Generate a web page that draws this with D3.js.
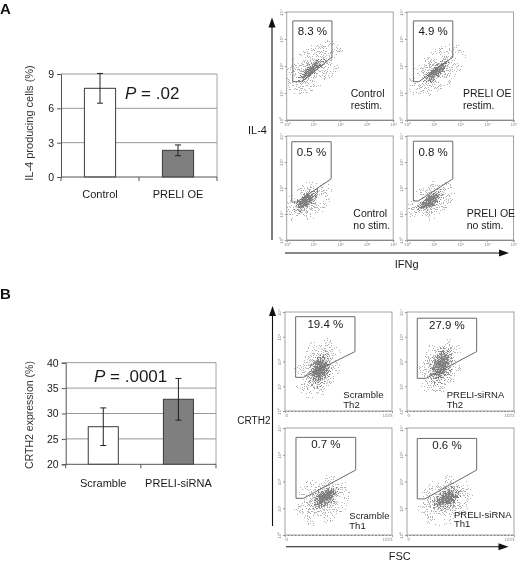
<!DOCTYPE html>
<html><head><meta charset="utf-8">
<script src="https://cdn.jsdelivr.net/npm/d3@7"></script>
<style>
html,body{margin:0;padding:0;background:#fff;}
svg{display:block;font-family:"Liberation Sans",Arial,Helvetica,sans-serif;will-change:transform;}
.tiny{text-rendering:geometricPrecision;}
</style></head><body>
<svg id="fig" width="520" height="562"></svg>
<script>
// ---------------- Bar chart data ----------------
const catsA = ["Control", "PRELI OE"];
const valsA = [7.75, 2.33];
const errA = [1.3, 0.47];
const ticksA = [0, 3, 6, 9];
const domainA = [0, 9];
const pTextA = ".02";
const yTitleA = "IL-4 producing cells (%)";

const catsB = ["Scramble", "PRELI-siRNA"];
const valsB = [27.4, 32.8];
const errB = [3.7, 4.1];
const ticksB = [20, 25, 30, 35, 40];
const domainB = [20, 40];
const pTextB = ".0001";
const yTitleB = "CRTH2 expression (%)";

// ---------------- Flow cytometry data ----------------
// gates: polygon vertices in data units (x, y)
const pctA = ["8.3 %", "4.9 %", "0.5 %", "0.8 %"];
const namesA = [["Control", "restim."], ["PRELI OE", "restim."], ["Control", "no stim."], ["PRELI OE", "no stim."]];
const gatesA = [
  [[0.23,3.67],[1.70,3.67],[1.70,2.33],[0.57,1.42],[0.23,1.42]],
  [[0.24,3.67],[1.72,3.67],[1.72,2.33],[0.45,1.42],[0.24,1.42]],
  [[0.19,3.78],[1.67,3.78],[1.67,2.35],[0.38,1.46],[0.19,1.46]],
  [[0.24,3.80],[1.72,3.80],[1.72,2.35],[0.42,1.50],[0.24,1.50]]
];
// clouds: [centerX, centerY, axisEndX, axisEndY, widthRatio, density]  (halo, core)
const cloudsA = [
  [[0.98,1.95,2.15,2.90,0.55,0.5],[0.92,1.85,1.52,2.37,0.30,1]],
  [[1.13,1.85,2.20,2.80,0.55,0.5],[1.09,1.78,1.66,2.30,0.30,1]],
  [[0.81,1.50,1.70,2.22,0.65,0.5],[0.73,1.50,1.26,1.92,0.45,1]],
  [[0.91,1.50,1.78,2.22,0.65,0.5],[0.87,1.50,1.40,1.92,0.45,1]]
];
const xTicksA = [0, 1, 2, 3, 4];
const yTicksA = [0, 1, 2, 3, 4];

const pctB = ["19.4 %", "27.9 %", "0.7 %", "0.6 %"];
const namesB = [["Scramble", "Th2"], ["PRELI-siRNA", "Th2"], ["Scramble", "Th1"], ["PRELI-siRNA", "Th1"]];
const gatesB = [
  [[102,3.81],[669,3.81],[669,2.40],[175,1.36],[102,1.36]],
  [[98,3.75],[666,3.75],[666,2.40],[182,1.32],[98,1.32]],
  [[105,3.65],[676,3.65],[676,2.43],[175,1.37],[105,1.37]],
  [[98,3.61],[666,3.61],[666,2.43],[172,1.35],[98,1.35]]
];
const cloudsB = [
  [[316,1.74,460,3.05,0.7,0.5],[335,1.66,402,2.46,0.55,1]],
  [[316,1.82,440,3.05,0.7,0.5],[325,1.82,392,2.67,0.55,1]],
  [[354,1.31,620,2.02,0.8,0.5],[382,1.42,526,1.79,0.60,1]],
  [[363,1.31,620,2.02,0.8,0.5],[382,1.38,526,1.76,0.60,1]]
];
const xTicksB = [0, 1023];
const yTicksB = [0, 1, 2, 3, 4];

// ---------------- Drawing ----------------
const svg = d3.select("#fig");
svg.append("rect").attr("width", 520).attr("height", 562).attr("fill", "#fff");
const defs = svg.append("defs");
const TXT = "#1a1a1a";

const rg = defs.append("radialGradient").attr("id", "cg");
[[0,1],[0.3,0.85],[0.6,0.45],[0.85,0.12],[1,0]].forEach(([o,a]) =>
  rg.append("stop").attr("offset", o).attr("stop-color", "#000").attr("stop-opacity", a));
const rg2 = defs.append("radialGradient").attr("id", "cgSoft");
[[0,0.55],[0.4,0.35],[0.75,0.1],[1,0]].forEach(([o,a]) =>
  rg2.append("stop").attr("offset", o).attr("stop-color", "#6f6f6f").attr("stop-opacity", a));

function speckle(id, color, seed, freq) {
  const f = defs.append("filter").attr("id", id)
    .attr("x", "-10%").attr("y", "-10%").attr("width", "120%").attr("height", "120%")
    .attr("color-interpolation-filters", "sRGB");
  f.append("feTurbulence").attr("type", "fractalNoise").attr("baseFrequency", freq)
    .attr("numOctaves", 1).attr("seed", seed).attr("result", "n");
  f.append("feColorMatrix").attr("in", "n").attr("type", "matrix")
    .attr("values", "0 0 0 0 0  0 0 0 0 0  0 0 0 0 0  1 0 0 0 0").attr("result", "na");
  const ct = f.append("feComponentTransfer").attr("in", "na").attr("result", "ns");
  ct.append("feFuncA").attr("type", "linear").attr("slope", 3.2).attr("intercept", -1.1);
  f.append("feComposite").attr("in", "SourceAlpha").attr("in2", "ns").attr("operator", "arithmetic")
    .attr("k1", 0).attr("k2", 1).attr("k3", -1).attr("k4", 0.46).attr("result", "d");
  const ct2 = f.append("feComponentTransfer").attr("in", "d").attr("result", "m");
  ct2.append("feFuncA").attr("type", "discrete").attr("tableValues", "0 1");
  f.append("feFlood").attr("flood-color", color).attr("result", "c");
  f.append("feComposite").attr("in", "c").attr("in2", "m").attr("operator", "in");
}
speckle("spLight", "#b3b3b3", 7, 0.95);
speckle("spDark", "#808080", 19, 1.3);

// ---- bar chart ----
function barChart(cfg) {
  const g = svg.append("g");
  const y = d3.scaleLinear().domain(cfg.domain).range([cfg.y1, cfg.y0]);
  const x = d3.scaleBand().domain(cfg.cats).range([cfg.x0, cfg.x1]).paddingInner(0.6).paddingOuter(0.3);
  g.selectAll(".grid").data(cfg.ticks.slice(1)).join("line")
    .attr("x1", cfg.x0).attr("x2", cfg.x1).attr("y1", d => y(d)).attr("y2", d => y(d))
    .attr("stroke", "#8c8c8c").attr("stroke-width", 0.9);
  g.append("line").attr("x1", cfg.x1).attr("x2", cfg.x1).attr("y1", cfg.y0).attr("y2", cfg.y1)
    .attr("stroke", "#9a9a9a").attr("stroke-width", 0.9);
  g.selectAll(".bar").data(cfg.vals).join("rect")
    .attr("x", (d, i) => x(cfg.cats[i])).attr("width", x.bandwidth())
    .attr("y", d => y(d)).attr("height", d => y(cfg.domain[0]) - y(d))
    .attr("fill", (d, i) => i === 0 ? "#ffffff" : "#7f7f7f")
    .attr("stroke", "#3a3a3a").attr("stroke-width", 1);
  cfg.vals.forEach((v, i) => {
    const cx = x(cfg.cats[i]) + x.bandwidth() / 2, e = cfg.errs[i];
    g.append("line").attr("x1", cx).attr("x2", cx).attr("y1", y(v - e)).attr("y2", y(v + e))
      .attr("stroke", "#222").attr("stroke-width", 1);
    [v - e, v + e].forEach(t => g.append("line").attr("x1", cx - 3).attr("x2", cx + 3)
      .attr("y1", y(t)).attr("y2", y(t)).attr("stroke", "#222").attr("stroke-width", 1));
  });
  const ax = g.append("g").attr("transform", `translate(${cfg.x0},0)`)
    .call(d3.axisLeft(y).tickValues(cfg.ticks).tickSize(4).tickPadding(3));
  ax.select(".domain").attr("stroke", "#555");
  ax.selectAll(".tick line").attr("stroke", "#555");
  ax.selectAll("text").attr("font-size", 10.5).attr("fill", TXT)
    .attr("font-family", "'Liberation Sans',Arial,sans-serif");
  g.append("line").attr("x1", cfg.x0).attr("x2", cfg.x1).attr("y1", cfg.y1).attr("y2", cfg.y1)
    .attr("stroke", "#555");
  const bounds = [cfg.x0, cfg.x0 + x.step(), cfg.x1];
  g.selectAll(".bt").data(bounds).join("line")
    .attr("x1", d => d).attr("x2", d => d).attr("y1", cfg.y1).attr("y2", cfg.y1 + 4).attr("stroke", "#555");
  g.selectAll(".cl").data(cfg.cats).join("text")
    .attr("x", d => x(d) + x.bandwidth() / 2).attr("y", cfg.catY)
    .attr("text-anchor", "middle").attr("font-size", 11).attr("fill", TXT).text(d => d);
  g.append("text").attr("transform", `translate(${cfg.titleX},${cfg.titleY}) rotate(-90)`)
    .attr("text-anchor", "middle").attr("dy", "0.35em")
    .attr("font-size", cfg.titleSize).attr("fill", "#333").text(cfg.title);
  const p = g.append("text").attr("x", cfg.pX).attr("y", cfg.pY).attr("font-size", 17).attr("fill", TXT);
  p.append("tspan").attr("font-style", "italic").text("P");
  p.append("tspan").text(" = " + cfg.pText);
}

barChart({cats: catsA, vals: valsA, errs: errA, ticks: ticksA, domain: domainA,
  x0: 61, x1: 217, y0: 74, y1: 177, catY: 198, titleX: 29, titleY: 123, titleSize: 11,
  title: yTitleA, pX: 125, pY: 99, pText: pTextA});
barChart({cats: catsB, vals: valsB, errs: errB, ticks: ticksB, domain: domainB,
  x0: 65.7, x1: 216, y0: 362.7, y1: 464.3, catY: 486.5, titleX: 29.5, titleY: 415, titleSize: 10.5,
  title: yTitleB, pX: 94, pY: 381.5, pText: pTextB});

// ---- flow plots ----
const sup = ["\u2070", "\u00B9", "\u00B2", "\u00B3", "\u2074"];
let clipN = 0;
function flowPlot(cfg) {
  const g = svg.append("g");
  const x = d3.scaleLinear().domain(cfg.xDomain).range([cfg.bx, cfg.bx + cfg.bw]);
  const y = d3.scaleLinear().domain([0, 4]).range([cfg.by + cfg.bh, cfg.by]);
  const cid = "clip" + (clipN++);
  defs.append("clipPath").attr("id", cid).append("rect")
    .attr("x", cfg.bx).attr("y", cfg.by).attr("width", cfg.bw).attr("height", cfg.bh);
  const cg = g.append("g").attr("clip-path", `url(#${cid})`);
  cfg.clouds.forEach((c, li) => {
    const [cx, cy, ex, ey, ratio, dens] = c;
    const px = x(cx), py = y(cy), qx = x(ex), qy = y(ey);
    const L = Math.hypot(qx - px, qy - py), ang = Math.atan2(qy - py, qx - px) * 180 / Math.PI;
    const tr = `translate(${px},${py}) rotate(${ang})`;
    if (li === 1) {
      cg.append("ellipse").attr("rx", L * 0.85).attr("ry", L * ratio * 0.85)
        .attr("transform", tr).attr("fill", "url(#cgSoft)");
    }
    cg.append("g").attr("filter", li === 0 ? "url(#spLight)" : "url(#spDark)")
      .append("ellipse").attr("cx", 0).attr("cy", 0).attr("rx", L).attr("ry", L * ratio)
      .attr("transform", tr).attr("fill", "url(#cg)").attr("fill-opacity", dens);
  });
  g.append("rect").attr("x", cfg.bx).attr("y", cfg.by).attr("width", cfg.bw).attr("height", cfg.bh)
    .attr("fill", "none").attr("stroke", "#9a9a9a").attr("stroke-width", 0.9);
  const xa = g.append("g").attr("transform", `translate(0,${cfg.by + cfg.bh})`)
    .call(d3.axisBottom(x).tickValues(cfg.xTicks).tickSize(2).tickPadding(1).tickFormat(cfg.xFmt));
  xa.select(".domain").attr("stroke", "#8a8a8a").attr("stroke-dasharray", cfg.dashed ? "2,1.5" : null);
  xa.selectAll(".tick line").attr("stroke", "#999");
  xa.selectAll("text").attr("class", "tiny").attr("font-size", 4.5).attr("fill", "#8a8a8a");
  if (cfg.edgeAnchors) {
    xa.selectAll("text").attr("text-anchor", (d, i) => i === 0 ? "start" : "end");
  }
  const ya = g.append("g").attr("transform", `translate(${cfg.bx},0)`)
    .call(d3.axisLeft(y).tickValues(yTicksA).tickSize(2).tickPadding(1).tickFormat(d => "10" + sup[d]));
  ya.select(".domain").attr("stroke", "none");
  ya.selectAll(".tick line").attr("stroke", "#999");
  ya.selectAll("text").attr("class", "tiny").attr("font-size", 4.5).attr("fill", "#8a8a8a")
    .attr("transform", "rotate(-90)").attr("text-anchor", "middle").attr("x", 0).attr("y", -4).attr("dy", 0);
  g.append("path").attr("d", d3.line().x(d => x(d[0])).y(d => y(d[1]))(cfg.gate) + "Z")
    .attr("fill", "none").attr("stroke", "#6a6a6a").attr("stroke-width", 1);
  const gx = (x(cfg.gate[0][0]) + x(cfg.gate[1][0])) / 2, gy = y(cfg.gate[0][1]);
  g.append("text").attr("x", gx).attr("y", gy + cfg.pctDy).attr("text-anchor", "middle")
    .attr("font-size", 11.5).attr("fill", TXT).text(cfg.pct);
  cfg.names.forEach((t, i) => g.append("text")
    .attr("x", cfg.bx + cfg.nameDx).attr("y", cfg.by + cfg.nameDy + i * cfg.lineH)
    .attr("font-size", cfg.nameSize).attr("fill", TXT).text(t));
}

const colsA = [286.7, 407], rowsA = [[12, 108], [136, 104]];
const nameOffA = [[64, 85], [56, 84.7], [66.6, 81.3], [59.7, 81]];
for (let i = 0; i < 4; i++) {
  flowPlot({bx: colsA[i % 2], by: rowsA[Math.floor(i / 2)][0], bw: 106.5, bh: rowsA[Math.floor(i / 2)][1],
    xDomain: [0, 4], xTicks: xTicksA, xFmt: d => "10" + sup[d], dashed: false, edgeAnchors: false,
    clouds: cloudsA[i], gate: gatesA[i], pct: pctA[i], pctDy: 14.5, names: namesA[i],
    nameDx: nameOffA[i][0], nameDy: nameOffA[i][1], lineH: 12, nameSize: 10.5});
}
const colsB = [285, 407], rowsB = [[312, 99], [428, 107]];
const nameOffB = [[58.3, 86.3], [39.7, 86], [64.3, 91.3], [47, 89.7]];
for (let i = 0; i < 4; i++) {
  flowPlot({bx: colsB[i % 2], by: rowsB[Math.floor(i / 2)][0], bw: 107, bh: rowsB[Math.floor(i / 2)][1],
    xDomain: [0, 1023], xTicks: xTicksB, xFmt: d => String(d), dashed: true, edgeAnchors: true,
    clouds: cloudsB[i], gate: gatesB[i], pct: pctB[i], pctDy: 11, names: namesB[i],
    nameDx: nameOffB[i][0], nameDy: nameOffB[i][1], lineH: 9.5, nameSize: 9.5});
}

// ---- arrows and axis titles ----
function vArrow(x, yTop, yBot) {
  svg.append("line").attr("x1", x).attr("x2", x).attr("y1", yBot).attr("y2", yTop + 8)
    .attr("stroke", "#111").attr("stroke-width", 1.1);
  svg.append("path").attr("d", `M${x},${yTop} L${x - 3.5},${yTop + 10} L${x + 3.5},${yTop + 10} Z`).attr("fill", "#111");
}
function hArrow(y, xL, xR) {
  svg.append("line").attr("x1", xL).attr("x2", xR - 8).attr("y1", y).attr("y2", y)
    .attr("stroke", "#111").attr("stroke-width", 1.1);
  svg.append("path").attr("d", `M${xR},${y} L${xR - 10},${y - 3.5} L${xR - 10},${y + 3.5} Z`).attr("fill", "#111");
}
vArrow(272, 17.5, 240);
hArrow(253, 285, 509);
vArrow(272.5, 306, 526);
hArrow(546.7, 286, 508.5);

svg.append("text").attr("x", 267).attr("y", 134).attr("text-anchor", "end").attr("font-size", 11).attr("fill", TXT).text("IL-4");
svg.append("text").attr("x", 406.7).attr("y", 267.5).attr("text-anchor", "middle").attr("font-size", 11).attr("fill", TXT).text("IFNg");
svg.append("text").attr("x", 270.5).attr("y", 424).attr("text-anchor", "end").attr("font-size", 10).attr("fill", TXT).text("CRTH2");
svg.append("text").attr("x", 399.7).attr("y", 560).attr("text-anchor", "middle").attr("font-size", 11).attr("fill", TXT).text("FSC");

svg.append("text").attr("x", 0).attr("y", 13.5).attr("font-size", 15).attr("font-weight", "bold").attr("fill", "#111").text("A");
svg.append("text").attr("x", 0).attr("y", 299).attr("font-size", 15).attr("font-weight", "bold").attr("fill", "#111").text("B");
</script>
</body></html>
